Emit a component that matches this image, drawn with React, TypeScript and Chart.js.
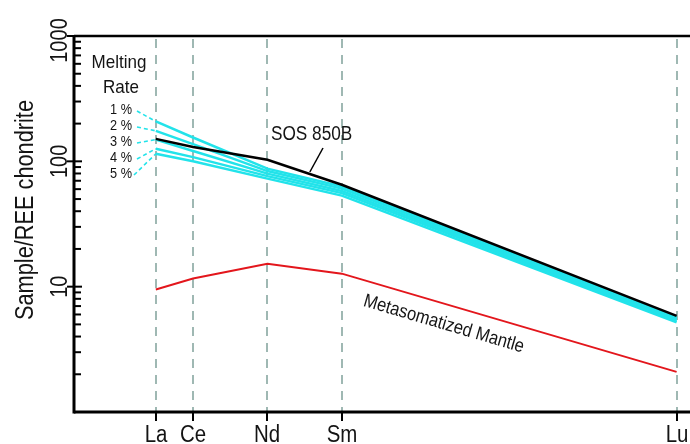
import React, { useEffect, useRef } from "react";
import { Chart, registerables } from "chart.js";

Chart.register(...registerables);

// ---- data ----
const elements = ["La", "Ce", "Nd", "Sm", "Lu"];
const atomicNumbers = [57, 58, 60, 62, 71];
const sos850B = [151, 130, 103, 65, 5.85];
const melt1 = [208, 155, 87.5, 62.9, 5.7];
const melt2 = [175, 137, 83.6, 60.6, 5.55];
const melt3 = [149, 121, 79.8, 58.0, 5.45];
const melt4 = [126, 108, 76.2, 55.8, 5.33];
const melt5 = [115, 100, 72.8, 53.3, 5.2];
const metasomatizedMantle = [9.5, 11.6, 15.2, 12.7, 2.09];
const meltSeries = [melt1, melt2, melt3, melt4, melt5];
const meltLabels = ["1 %", "2 %", "3 %", "4 %", "5 %"];
const yMajorTicks = [1, 10, 100, 1000];
const yTickLabels = ["", "10", "100", "1000"];
const yTitle = "Sample/REE chondrite";
const sosLabel = "SOS 850B";
const mantleLabel = "Metasomatized Mantle";
const meltTitle = ["Melting", "Rate"];

const FONT = "'Liberation Sans', Arial, Helvetica, sans-serif";
const CYAN = "#22e3ea";

const toPts = (vals: number[]) => vals.map((v, i) => ({ x: atomicNumbers[i], y: v }));

function txt(
  ctx: CanvasRenderingContext2D,
  text: string,
  x: number,
  y: number,
  size: number,
  sx: number,
  align: CanvasTextAlign,
  rot = 0
) {
  ctx.save();
  ctx.translate(x, y);
  if (rot) ctx.rotate(rot);
  ctx.scale(sx, 1);
  ctx.font = `${size}px ${FONT}`;
  ctx.textAlign = align;
  ctx.textBaseline = "alphabetic";
  ctx.fillStyle = "#141414";
  ctx.fillText(text, 0, 0);
  ctx.restore();
}

function line(ctx: CanvasRenderingContext2D, x1: number, y1: number, x2: number, y2: number) {
  ctx.beginPath();
  ctx.moveTo(x1, y1);
  ctx.lineTo(x2, y2);
  ctx.stroke();
}

const decorPlugin = {
  id: "decor",
  beforeDatasetsDraw(chart: any) {
    const { ctx, chartArea: a, scales } = chart;
    const xs = scales.x;
    ctx.save();
    ctx.strokeStyle = "#9fb8b3";
    ctx.lineWidth = 2;
    ctx.setLineDash([9, 7]);
    atomicNumbers.forEach((z) => {
      const px = Math.round(xs.getPixelForValue(z));
      line(ctx, px, a.top + 3, px, a.bottom);
    });
    ctx.restore();
  },
  afterDatasetsDraw(chart: any) {
    const { ctx, chartArea: a, scales } = chart;
    const xs = scales.x;
    const ys = scales.y;
    ctx.save();
    ctx.strokeStyle = "#000";
    ctx.lineCap = "butt";

    // frame
    ctx.lineWidth = 3;
    line(ctx, a.left, a.top - 1, a.left, a.bottom + 1.5);
    line(ctx, a.left, a.bottom, a.right, a.bottom);
    ctx.lineWidth = 2.5;
    line(ctx, a.left, a.top, a.right, a.top);

    // y ticks
    ctx.lineWidth = 2;
    for (let d = 1; d < 1000; d *= 10) {
      for (let m = 1; m <= 9; m++) {
        const v = d * m;
        if (v === 1) continue;
        const py = ys.getPixelForValue(v);
        if (m === 1) line(ctx, a.left - 7, py, a.left + 8, py);
        else line(ctx, a.left, py, a.left + 7, py);
      }
    }
    line(ctx, a.left - 7, ys.getPixelForValue(1000), a.left + 8, ys.getPixelForValue(1000));

    // y tick labels
    yMajorTicks.forEach((v, i) => {
      const lab = yTickLabels[i];
      if (!lab) return;
      let py = ys.getPixelForValue(v);
      if (v === 1000) py += 4.5;
      txt(ctx, lab, 66.5, py, 23, 0.87, "center", -Math.PI / 2);
    });

    // y title
    txt(ctx, yTitle, 33, (a.top + a.bottom) / 2 - 14, 25, 0.87, "center", -Math.PI / 2);

    // x ticks & labels
    ctx.lineWidth = 2;
    atomicNumbers.forEach((z, i) => {
      const px = Math.round(xs.getPixelForValue(z));
      line(ctx, px, a.bottom, px, a.bottom + 9);
      txt(ctx, elements[i], px, a.bottom + 30, 23.5, 0.87, "center");
    });

    // melting rate annotation
    txt(ctx, meltTitle[0], 119, 68, 18.5, 0.92, "center");
    txt(ctx, meltTitle[1], 121, 93, 18.5, 0.92, "center");
    const laX = xs.getPixelForValue(atomicNumbers[0]);
    meltLabels.forEach((lab, i) => {
      const base = 114 + i * 16;
      txt(ctx, lab, 132, base, 15, 0.85, "right");
      ctx.save();
      ctx.strokeStyle = CYAN;
      ctx.lineWidth = 1.6;
      ctx.setLineDash([4, 3]);
      const sx = i === 4 ? 134 : 137;
      line(ctx, sx, base - 3, laX, ys.getPixelForValue(meltSeries[i][0]));
      ctx.restore();
    });

    // SOS 850B annotation
    const nX = xs.getPixelForValue(atomicNumbers[2]);
    const nY = ys.getPixelForValue(sos850B[2]);
    const sX = xs.getPixelForValue(atomicNumbers[3]);
    const sY = ys.getPixelForValue(sos850B[3]);
    const t = 0.57;
    const ex = nX + (sX - nX) * t;
    const ey = nY + (sY - nY) * t - 2;
    ctx.lineWidth = 1.5;
    line(ctx, 323, 148, ex, ey);
    txt(ctx, sosLabel, 271, 139.5, 20, 0.86, "left");

    // Metasomatized mantle annotation
    const rSx = xs.getPixelForValue(atomicNumbers[3]);
    const rSy = ys.getPixelForValue(metasomatizedMantle[3]);
    const rLx = xs.getPixelForValue(atomicNumbers[4]);
    const rLy = ys.getPixelForValue(metasomatizedMantle[4]);
    const ang = Math.atan2(rLy - rSy, rLx - rSx);
    const mx = rSx + (rLx - rSx) * 0.3;
    const my = rSy + (rLy - rSy) * 0.3 + 26;
    txt(ctx, mantleLabel, mx, my, 19, 0.87, "center", ang);

    ctx.restore();
  },
};

export default function App() {
  const ref = useRef<HTMLCanvasElement>(null);
  useEffect(() => {
    const cyanSet = meltSeries.map((s, i) => ({
      label: meltLabels[i],
      data: toPts(s),
      borderColor: CYAN,
      borderWidth: 2.5,
      pointRadius: 0,
      tension: 0,
      fill: false,
    }));
    const chart = new Chart(ref.current!, {
      type: "line",
      data: {
        datasets: [
          {
            label: sosLabel,
            data: toPts(sos850B),
            borderColor: "#000",
            borderWidth: 2.5,
            pointRadius: 0,
            tension: 0,
            fill: false,
          },
          ...cyanSet,
          {
            label: mantleLabel,
            data: toPts(metasomatizedMantle),
            borderColor: "#e3161c",
            borderWidth: 2,
            pointRadius: 0,
            tension: 0,
            fill: false,
          },
        ],
      },
      options: {
        responsive: false,
        animation: false,
        events: [],
        layout: { padding: { left: 74, top: 36, right: 0, bottom: 32 } },
        plugins: { legend: { display: false }, tooltip: { enabled: false } },
        scales: {
          x: { type: "linear", min: 54.8, max: 71.36, display: false },
          y: { type: "logarithmic", min: 1, max: 1000, display: false },
        },
      },
      plugins: [decorPlugin],
    } as any);
    return () => chart.destroy();
  }, []);
  return (
    <div style={{ position: "fixed", left: 0, top: 0, width: 690, height: 444, background: "#fff" }}>
      <canvas ref={ref} width={690} height={444} style={{ width: 690, height: 444, display: "block" }} />
    </div>
  );
}
